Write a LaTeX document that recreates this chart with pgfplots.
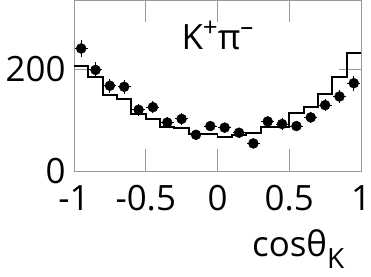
\documentclass[border=0pt]{standalone}
\usepackage{pgfplots}
\pgfplotsset{compat=1.18}
\usepackage{fontspec}
\setmainfont{Open Sans}
\begin{document}
\begin{tikzpicture}
\begin{axis}[
 scale only axis, width=287bp, height=171bp,
 xmin=-1, xmax=1, ymin=0, ymax=335,
 xtick={-1,-0.5,0,0.5,1}, xticklabels={-1,-0.5,0,0.5,1},
 ytick={0,200}, yticklabels={0,200},
 tick align=inside, major tick length=22bp,
 axis line style={gray!80, line width=0.8pt},
 every tick/.style={gray!80, line width=0.8pt},
 tick label style={font=\fontsize{35}{40}\selectfont},
 xticklabel style={yshift=-11bp},
 yticklabel style={xshift=-5bp},
 clip=false,
]
\addplot[const plot, black, line width=2pt] coordinates {
(-1.0,205) (-0.9,185) (-0.8,148) (-0.7,141) (-0.6,112) (-0.5,102) (-0.4,87) (-0.3,84)
(-0.2,72) (-0.1,72) (0.0,66) (0.1,70) (0.2,74) (0.3,86) (0.4,87) (0.5,113) (0.6,125)
(0.7,151) (0.8,184) (0.9,232) (1.0,232)};
\addplot[only marks, mark=*, mark size=5pt, black,
 error bars/.cd, y dir=both, y explicit, x dir=both, x explicit,
 error bar style={line width=0.9pt}, error mark=none]
 coordinates {
(-0.95,240) +- (0.045,17)
(-0.85,198) +- (0.045,15)
(-0.75,167) +- (0.045,14)
(-0.65,165) +- (0.045,14)
(-0.55,120) +- (0.045,12)
(-0.45,125) +- (0.045,12)
(-0.35,95) +- (0.045,11)
(-0.25,102) +- (0.045,11)
(-0.15,71) +- (0.045,10)
(-0.05,88) +- (0.045,10)
(0.05,85) +- (0.045,10)
(0.15,75) +- (0.045,10)
(0.25,54) +- (0.045,9)
(0.35,97) +- (0.045,11)
(0.45,92) +- (0.045,11)
(0.55,88) +- (0.045,10)
(0.65,105) +- (0.045,11)
(0.75,129) +- (0.045,12)
(0.85,146) +- (0.045,13)
(0.95,172) +- (0.045,15)
};
\node[font=\fontsize{35}{40}\selectfont, anchor=base, inner sep=0pt] at (rel axis cs:0.50,0.708) {K\raisebox{0.38em}{\fontsize{26}{30}\selectfont +}π\raisebox{0.42em}{\fontsize{26}{30}\selectfont –}};
\node[font=\fontsize{35}{40}\selectfont, anchor=base west, inner sep=0pt] at ([yshift=-85bp,xshift=178bp]rel axis cs:0,0) {cosθ\raisebox{-0.36em}{\fontsize{28}{32}\selectfont K}};
\coordinate (bl) at (rel axis cs:0,0);
\coordinate (tr) at (rel axis cs:1,1);
\end{axis}
\pgfresetboundingbox
\path[use as bounding box] ([xshift=-74bp,yshift=-106bp]bl) rectangle ([xshift=10bp]tr);
\end{tikzpicture}
\end{document}
